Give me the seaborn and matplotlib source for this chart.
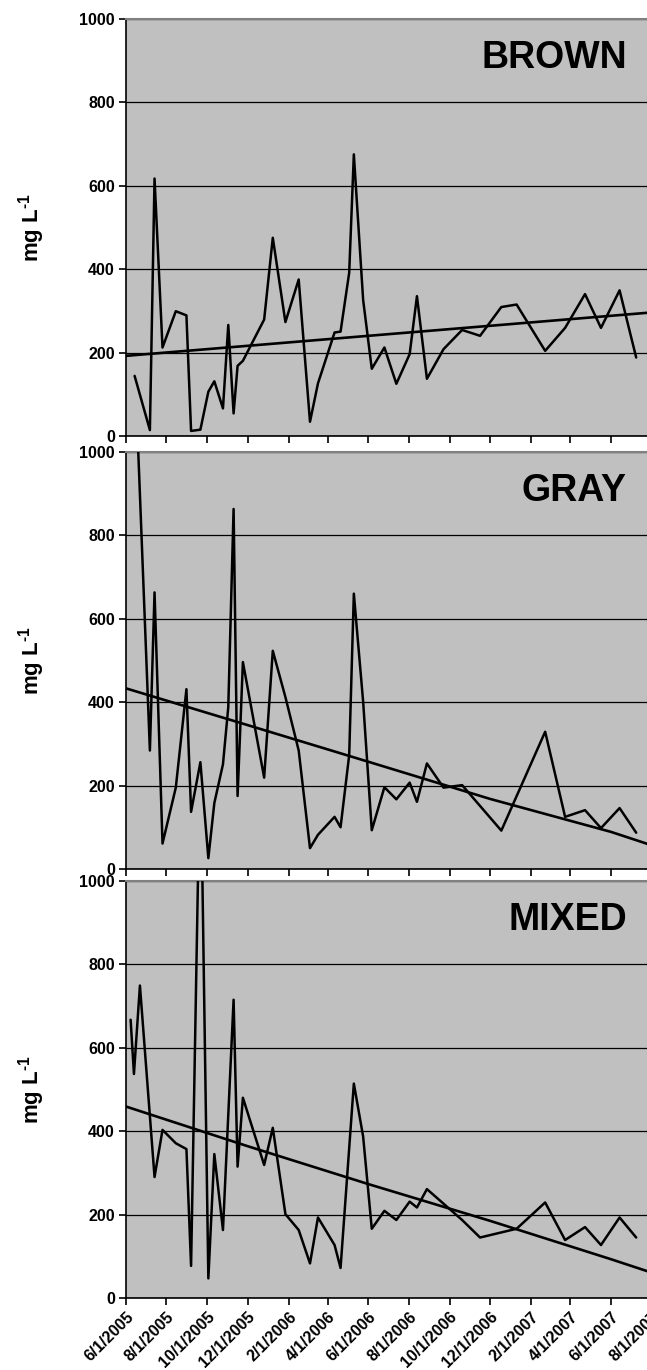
import pandas as pd
import seaborn as sns
import matplotlib.pyplot as plt
import matplotlib.dates as mdates
from matplotlib.ticker import FuncFormatter

# values
brown_dates = ['2005-06-14', '2005-07-07', '2005-07-14', '2005-07-26', '2005-08-15', '2005-08-31',
               '2005-09-07', '2005-09-21', '2005-10-03', '2005-10-12', '2005-10-25', '2005-11-02',
               '2005-11-10', '2005-11-16', '2005-11-24', '2005-12-26', '2006-01-08', '2006-01-27',
               '2006-02-16', '2006-03-05', '2006-03-17', '2006-04-11', '2006-04-20', '2006-05-03',
               '2006-05-10', '2006-05-24', '2006-06-06', '2006-06-25', '2006-07-13', '2006-08-02',
               '2006-08-13', '2006-08-28', '2006-09-22', '2006-10-20', '2006-11-16', '2006-12-18',
               '2007-01-10', '2007-02-22', '2007-03-24', '2007-04-23', '2007-05-17', '2007-06-14',
               '2007-07-09']
brown_vals = [144, 14, 617, 212, 299, 289, 12, 15, 106, 131, 66, 266, 54, 168, 180, 279, 475, 273,
              375, 34, 126, 248, 250, 391, 675, 326, 161, 212, 125, 196, 335, 137, 208, 254, 240,
              309, 315, 204, 259, 340, 259, 349, 188]

gray_dates = ['2005-06-14', '2005-07-07', '2005-07-14', '2005-07-26', '2005-08-15', '2005-08-31',
              '2005-09-07', '2005-09-21', '2005-10-03', '2005-10-12', '2005-10-25', '2005-11-02',
              '2005-11-10', '2005-11-16', '2005-11-24', '2005-12-26', '2006-01-08', '2006-01-27',
              '2006-02-16', '2006-03-05', '2006-03-17', '2006-04-11', '2006-04-20', '2006-05-03',
              '2006-05-10', '2006-05-24', '2006-06-06', '2006-06-25', '2006-07-13', '2006-08-02',
              '2006-08-13', '2006-08-28', '2006-09-22', '2006-10-20', '2006-12-18', '2007-02-22',
              '2007-03-24', '2007-04-23', '2007-05-17', '2007-06-14', '2007-07-09']
gray_vals = [1225, 284, 663, 61, 195, 431, 137, 256, 26, 158, 251, 388, 863, 175, 496, 219, 523,
             412, 284, 50, 82, 125, 100, 273, 660, 401, 93, 196, 167, 207, 161, 253, 195, 201, 92,
             329, 125, 141, 98, 146, 87]

mixed_dates = ['2005-06-08', '2005-06-13', '2005-06-22', '2005-07-14', '2005-07-26', '2005-08-15',
               '2005-08-31', '2005-09-07', '2005-09-21', '2005-10-03', '2005-10-12', '2005-10-25',
               '2005-11-10', '2005-11-16', '2005-11-24', '2005-12-26', '2006-01-08', '2006-01-27',
               '2006-02-16', '2006-03-05', '2006-03-17', '2006-04-11', '2006-04-20', '2006-05-10',
               '2006-05-24', '2006-06-06', '2006-06-25', '2006-07-13', '2006-08-02', '2006-08-13',
               '2006-08-28', '2006-10-20', '2006-11-16', '2007-01-10', '2007-02-22', '2007-03-24',
               '2007-04-23', '2007-05-17', '2007-06-14', '2007-07-09']
mixed_vals = [667, 537, 749, 290, 403, 371, 357, 77, 1330, 47, 345, 163, 715, 315, 480, 319, 408,
              201, 163, 83, 193, 127, 72, 514, 387, 166, 209, 187, 231, 217, 261, 187, 145, 166,
              229, 139, 170, 127, 193, 145]

# trend lines, read at the tick dates
trend_dates = ['2005-06-01', '2005-12-01', '2006-06-01', '2006-12-01', '2007-06-01', '2007-08-01']
brown_trend = [192, 216, 240, 264, 288, 296]
gray_trend = [433, 345, 257, 168, 89, 57]
mixed_trend = [459, 364, 273, 185, 93, 61]

panels = [('BROWN', brown_dates, brown_vals, brown_trend),
          ('GRAY', gray_dates, gray_vals, gray_trend),
          ('MIXED', mixed_dates, mixed_vals, mixed_trend)]

sns.set_style('ticks')
plt.rcParams['font.family'] = ['Liberation Sans', 'DejaVu Sans']
plt.rcParams['font.weight'] = 'bold'
plt.rcParams['text.color'] = 'black'
plt.rcParams['axes.labelcolor'] = 'black'
plt.rcParams['xtick.color'] = 'black'
plt.rcParams['ytick.color'] = 'black'
plt.rcParams['mathtext.fontset'] = 'custom'
plt.rcParams['mathtext.rm'] = 'Liberation Sans:bold'
plt.rcParams['mathtext.bf'] = 'Liberation Sans:bold'
plt.rcParams['mathtext.default'] = 'bf'

fig = plt.figure(figsize=(6.47, 13.70), dpi=100)
bottoms = [0.6818, 0.3657, 0.05255]
axes = [fig.add_axes([0.1947, b, 0.8122, 0.3045]) for b in bottoms]

fmt = FuncFormatter(lambda v, p: '{0}/{1}/{2}'.format(mdates.num2date(v).month,
                                                        mdates.num2date(v).day,
                                                        mdates.num2date(v).year))

for i, (name, dates, vals, trend) in enumerate(panels):
    ax = axes[i]
    ax.set_facecolor('#c0c0c0')
    df = pd.DataFrame({'date': pd.to_datetime(dates), 'val': vals})
    tr = pd.DataFrame({'date': pd.to_datetime(trend_dates), 'val': trend})
    sns.lineplot(data=df, x='date', y='val', ax=ax, color='black', lw=1.8,
                 estimator=None, sort=False, zorder=3)
    sns.lineplot(data=tr, x='date', y='val', ax=ax, color='black', lw=1.9,
                 estimator=None, sort=False, zorder=3)

    ax.set_ylim(0, 1000)
    ax.set_xlim(pd.Timestamp('2005-06-01'), pd.Timestamp('2007-08-01'))
    ax.set_yticks([0, 200, 400, 600, 800, 1000])
    ax.yaxis.grid(True, color='black', lw=0.9)
    ax.set_axisbelow(True)

    ax.xaxis.set_major_locator(mdates.MonthLocator(bymonth=[2, 4, 6, 8, 10, 12]))
    ax.xaxis.set_major_formatter(fmt)
    ax.tick_params(axis='both', direction='out', length=5, width=1.2, color='black',
                   labelsize=11.5, labelcolor='black')
    ax.tick_params(axis='y', pad=3)
    ax.tick_params(axis='x', pad=3)

    ax.spines['right'].set_visible(False)
    ax.spines['top'].set_color('#808080')
    ax.spines['top'].set_linewidth(1.5)
    ax.spines['left'].set_color('black')
    ax.spines['left'].set_linewidth(1.2)
    ax.spines['bottom'].set_color('black')
    ax.spines['bottom'].set_linewidth(1.2)

    ax.set_xlabel('')
    ax.set_ylabel(r'mg L$^{\text{-1}}$', fontsize=16, fontweight='bold', color='black')
    ax.yaxis.set_label_coords(-0.150, 0.5)

    ax.text(0.953, 0.907, name, transform=ax.transAxes, ha='right', va='center',
            fontsize=27, fontweight='bold', color='black')

    if i < 2:
        ax.set_xticklabels([])
    else:
        for lab in ax.get_xticklabels():
            lab.set_rotation(45)
            lab.set_ha('right')
            lab.set_rotation_mode('anchor')
            lab.set_fontweight('bold')

plt.savefig('out.png', dpi=100)
